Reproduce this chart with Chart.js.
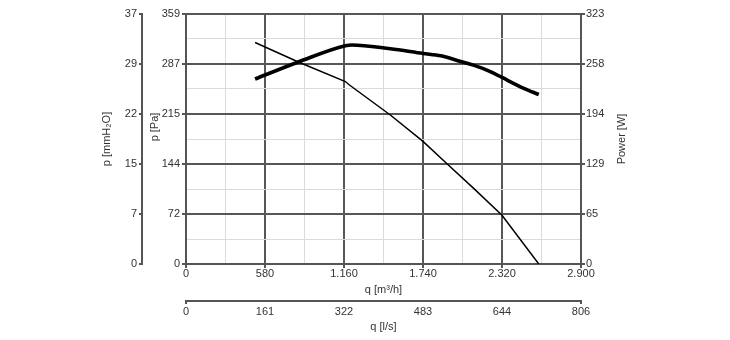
<!DOCTYPE html>
<html>
<head>
<meta charset="utf-8">
<script src="https://cdn.jsdelivr.net/npm/chart.js@4.4.1/dist/chart.umd.min.js"></script>
<style>
  html, body { margin: 0; padding: 0; background: #ffffff; }
  canvas { display: block; }
</style>
</head>
<body>
<canvas id="c" width="730" height="340"></canvas>
<script>
// ---- data ----
const pressureFlow = [507, 825, 1170, 1200, 1500, 1740, 1910, 2110, 2320, 2590];   // q [m3/h]
const pressurePa   = [318, 290, 262, 257, 214, 176, 145, 109, 70, 0];              // p [Pa]
const powerFlow    = [507, 825, 1170, 1220, 1500, 1740, 1870, 2010, 2110, 2230, 2320, 2480, 2590]; // q [m3/h]
const powerW       = [239, 261, 282, 283, 278, 272, 269, 262, 257, 249, 241, 227, 219];           // Power [W]

const flowTicksM3h    = ['0', '580', '1.160', '1.740', '2.320', '2.900'];
const flowTicksLs     = ['0', '161', '322', '483', '644', '806'];
const pressureTicksPa = ['0', '72', '144', '215', '287', '359'];
const pressureTicksMm = ['0', '7', '15', '22', '29', '37'];
const powerTicks      = ['0', '65', '129', '194', '258', '323'];

const flowMax = 2900, flowMaxLs = 2900 / 3.6, paMax = 359, mmMax = 359 / 9.80665, powerMax = 323;

// ---- styling ----
const FONT = "'Liberation Sans', Arial, sans-serif";
const TXT = '#333333';
const MAJOR = '#575757';
const MINOR = '#dadada';
const AXIS = '#555555';

function ticksBuilder(max, n) {
  return function (scale) {
    const t = [];
    for (let i = 0; i <= n; i++) t.push({ value: max * i / n });
    scale.ticks = t;
  };
}
function fixSize(prop, size) {
  return function (scale) {
    scale[prop] = size;
    scale.paddingLeft = 0; scale.paddingRight = 0;
    scale.paddingTop = 0; scale.paddingBottom = 0;
  };
}
const tickFont = { family: FONT, size: 11, lineHeight: 1.2 };
const titleFont = { family: FONT, size: 11, lineHeight: 1.2 };

// vertical titles drawn bottom-to-top
const sideTitles = {
  id: 'sideTitles',
  afterDraw(chart) {
    const { ctx, chartArea } = chart;
    const items = [
      { text: 'p [Pa]', x: 155, y: 127 },
      { text: 'Power [W]', x: 622, y: (chartArea.top + chartArea.bottom) / 2 }
    ];
    ctx.save();
    ctx.fillStyle = TXT;
    ctx.font = "11px " + FONT;
    ctx.textAlign = 'center';
    ctx.textBaseline = 'middle';
    items.forEach(it => {
      ctx.save();
      ctx.translate(it.x, it.y);
      ctx.rotate(-Math.PI / 2);
      ctx.fillText(it.text, 0, 0);
      ctx.restore();
    });
    ctx.restore();
  }
};

new Chart(document.getElementById('c'), {
  type: 'line',
  data: {
    datasets: [
      {
        label: 'p',
        data: pressureFlow.map((q, i) => ({ x: q, y: pressurePa[i] })),
        xAxisID: 'x', yAxisID: 'y',
        borderColor: '#000000', borderWidth: 1.5,
        pointRadius: 0, tension: 0, fill: false
      },
      {
        label: 'Power',
        data: powerFlow.map((q, i) => ({ x: q, y: powerW[i] })),
        xAxisID: 'x', yAxisID: 'y1',
        borderColor: '#000000', borderWidth: 3.6,
        pointRadius: 0, cubicInterpolationMode: 'monotone', fill: false,
        borderCapStyle: 'butt', borderJoinStyle: 'round'
      }
    ]
  },
  options: {
    responsive: false,
    animation: false,
    devicePixelRatio: 1,
    layout: { padding: { left: 90, right: 0, top: 14, bottom: 0 } },
    plugins: { legend: { display: false }, tooltip: { enabled: false } },
    scales: {
      x: {
        type: 'linear', position: 'bottom', weight: 0,
        min: 0, max: flowMax,
        afterBuildTicks: ticksBuilder(flowMax, 10),
        afterFit: fixSize('height', 37),
        ticks: {
          autoSkip: false, maxRotation: 0, minRotation: 0,
          padding: -1, color: TXT, font: tickFont,
          callback: (v, i) => (i % 2 === 0 ? flowTicksM3h[i / 2] : '')
        },
        grid: {
          color: c => (c.index % 2 === 0 ? MAJOR : MINOR),
          lineWidth: c => (c.index % 2 === 0 ? 2 : 1),
          tickColor: c => (c.index % 2 === 0 ? MAJOR : 'rgba(0,0,0,0)'),
          tickLength: 4
        },
        border: { display: true, color: AXIS, width: 2 },
        title: { display: true, text: 'q [m³/h]', color: TXT, font: titleFont, padding: { top: 0, bottom: 4.4 } }
      },
      x2: {
        type: 'linear', position: 'bottom', weight: 1,
        min: 0, max: flowMaxLs,
        afterBuildTicks: ticksBuilder(flowMaxLs, 5),
        afterFit: fixSize('height', 39),
        ticks: {
          autoSkip: false, maxRotation: 0, minRotation: 0,
          padding: 1, color: TXT, font: tickFont,
          callback: (v, i) => flowTicksLs[i]
        },
        grid: {
          drawOnChartArea: false,
          color: MAJOR,
          tickColor: c => (c.index === 0 || c.index === 5 ? AXIS : 'rgba(0,0,0,0)'),
          tickLength: 3, lineWidth: 2
        },
        border: { display: true, color: AXIS, width: 2 },
        title: { display: true, text: 'q [l/s]', color: TXT, font: titleFont, padding: { top: 0, bottom: 6.7 } }
      },
      y: {
        type: 'linear', position: 'left', weight: 0,
        min: 0, max: paMax,
        afterBuildTicks: ticksBuilder(paMax, 10),
        afterFit: fixSize('width', 44),
        ticks: {
          autoSkip: false, padding: 2, color: TXT, font: tickFont,
          callback: (v, i) => (i % 2 === 0 ? pressureTicksPa[i / 2] : '')
        },
        grid: {
          color: c => (c.index % 2 === 0 ? MAJOR : MINOR),
          lineWidth: c => (c.index % 2 === 0 ? 2 : 1),
          tickColor: c => (c.index % 2 === 0 ? MAJOR : 'rgba(0,0,0,0)'),
          tickLength: 4
        },
        border: { display: true, color: AXIS, width: 2 },
        title: { display: false }
      },
      yH: {
        type: 'linear', position: 'left', weight: 1,
        min: 0, max: mmMax,
        afterBuildTicks: ticksBuilder(mmMax, 5),
        afterFit: fixSize('width', 52),
        ticks: {
          autoSkip: false, padding: 2, color: TXT, font: tickFont,
          callback: (v, i) => pressureTicksMm[i]
        },
        grid: { drawOnChartArea: false, color: AXIS, tickColor: AXIS, tickLength: 3, lineWidth: 2 },
        border: { display: true, color: AXIS, width: 2 },
        title: { display: true, text: 'p [mmH₂O]', color: TXT, font: titleFont, padding: { top: 10.1, bottom: 0 } }
      },
      y1: {
        type: 'linear', position: 'right', weight: 0,
        min: 0, max: powerMax,
        afterBuildTicks: ticksBuilder(powerMax, 5),
        afterFit: fixSize('width', 149),
        ticks: {
          autoSkip: false, padding: 1, color: TXT, font: tickFont,
          callback: (v, i) => powerTicks[i]
        },
        grid: { drawOnChartArea: false, color: AXIS, tickColor: AXIS, tickLength: 4, lineWidth: 2 },
        border: { display: true, color: AXIS, width: 2 },
        title: { display: false }
      }
    }
  },
  plugins: [sideTitles]
});
</script>
</body>
</html>
